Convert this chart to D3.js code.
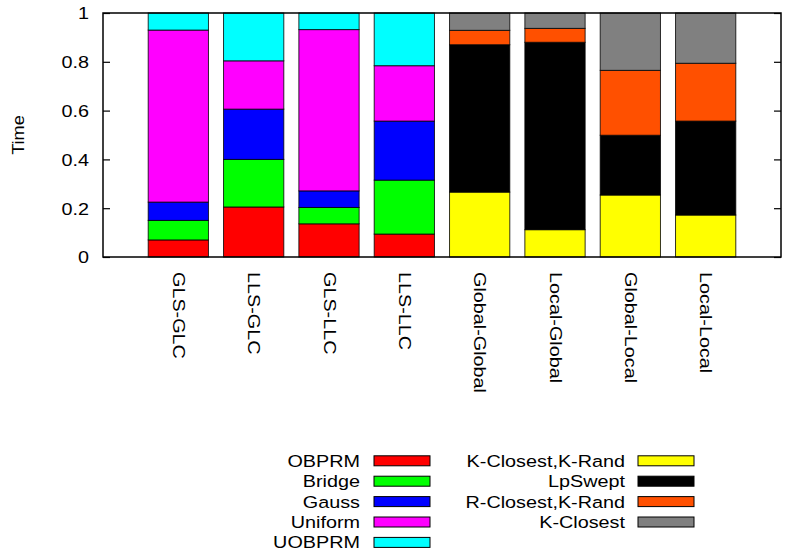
<!DOCTYPE html>
<html>
<head>
<meta charset="utf-8">
<script src="https://cdn.jsdelivr.net/npm/d3@7"></script>
<style>
  html, body { margin: 0; padding: 0; background: #fff; }
  svg { display: block; }
  text { font-family: "Liberation Sans", Arial, Helvetica, sans-serif; fill: #000; }
</style>
</head>
<body>
<svg id="chart" width="786" height="554"></svg>
<script>
// ---- data ----
const categories = ["GLS-GLC", "LLS-GLC", "GLS-LLC", "LLS-LLC", "Global-Global", "Local-Global", "Global-Local", "Local-Local"];
const seriesNames = ["OBPRM", "Bridge", "Gauss", "Uniform", "UOBPRM", "K-Closest,K-Rand", "LpSwept", "R-Closest,K-Rand", "K-Closest"];
const obprm        = [0.070, 0.205, 0.136, 0.094, 0, 0, 0, 0];
const bridge       = [0.080, 0.195, 0.067, 0.221, 0, 0, 0, 0];
const gauss        = [0.075, 0.206, 0.068, 0.242, 0, 0, 0, 0];
const uniform      = [0.705, 0.198, 0.661, 0.227, 0, 0, 0, 0];
const uobprm       = [0.070, 0.196, 0.068, 0.216, 0, 0, 0, 0];
const kClosestKRand = [0, 0, 0, 0, 0.266, 0.112, 0.254, 0.172];
const lpSwept      = [0, 0, 0, 0, 0.604, 0.768, 0.245, 0.385];
const rClosestKRand = [0, 0, 0, 0, 0.059, 0.057, 0.266, 0.237];
const kClosest     = [0, 0, 0, 0, 0.071, 0.063, 0.235, 0.206];
const seriesColors = ["#ff0000", "#00ff00", "#0000ff", "#ff00ff", "#00ffff", "#ffff00", "#000000", "#ff5000", "#808080"];
const yTickValues = [0, 0.2, 0.4, 0.6, 0.8, 1];
const yLabel = "Time";

const seriesValues = [obprm, bridge, gauss, uniform, uobprm, kClosestKRand, lpSwept, rClosestKRand, kClosest];

// ---- layout ----
const plot = { left: 103, right: 781, top: 13, bottom: 257 };
const FONT = 16.5, SX = 1.2;

const svg = d3.select("#chart");
const x = d3.scaleLinear().domain([-1, categories.length]).range([plot.left, plot.right]);
const y = d3.scaleLinear().domain([0, 1]).range([plot.bottom, plot.top]);
const barW = x(0.8) - x(0);

// stacked data
const rows = categories.map((c, i) => {
  const r = { cat: c, idx: i };
  seriesNames.forEach((s, k) => r[s] = seriesValues[k][i]);
  return r;
});
const stacked = d3.stack().keys(seriesNames)(rows);

// bars
const gBars = svg.append("g");
stacked.forEach((layer, k) => {
  gBars.selectAll(null)
    .data(layer.filter(d => d[1] - d[0] > 0))
    .enter().append("rect")
    .attr("x", d => x(d.data.idx) - barW / 2)
    .attr("width", barW)
    .attr("y", d => y(d[1]))
    .attr("height", d => y(d[0]) - y(d[1]))
    .attr("fill", seriesColors[k])
    .attr("stroke", "#000")
    .attr("stroke-opacity", 0.8)
    .attr("stroke-width", 1);
});

// left axis
const yAxis = d3.axisLeft(y).tickValues(yTickValues).tickFormat(d3.format("")).tickSize(-7).tickPadding(14);
const gy = svg.append("g").attr("transform", `translate(${plot.left},0)`).call(yAxis);
gy.select(".domain").remove();
gy.selectAll(".tick line").attr("stroke", "#000").attr("stroke-width", 1.2);
gy.selectAll(".tick text")
  .attr("x", null).attr("dy", "0.36em")
  .attr("transform", `translate(-14,0) scale(${SX},1)`)
  .style("font-size", FONT + "px")
  .style("font-family", '"Liberation Sans", Arial, sans-serif')
  .attr("fill", "#000");

// right axis (mirror ticks)
const yAxisR = d3.axisRight(y).tickValues(yTickValues).tickFormat("").tickSize(-7);
const gyr = svg.append("g").attr("transform", `translate(${plot.right},0)`).call(yAxisR);
gyr.select(".domain").remove();
gyr.selectAll(".tick line").attr("stroke", "#000").attr("stroke-width", 1.2);

// bottom axis labels
const xAxis = d3.axisBottom(x).tickValues(d3.range(categories.length)).tickFormat(i => categories[i]).tickSize(0);
const gx = svg.append("g").attr("transform", `translate(0,${plot.bottom})`).call(xAxis);
gx.select(".domain").remove();
gx.selectAll(".tick text")
  .attr("x", null).attr("y", null).attr("dy", null)
  .attr("text-anchor", "start")
  .attr("transform", `translate(-6,15) rotate(90) scale(${SX},1)`)
  .style("font-size", FONT + "px")
  .style("font-family", '"Liberation Sans", Arial, sans-serif')
  .attr("fill", "#000");

// border
svg.append("rect")
  .attr("x", plot.left).attr("y", plot.top)
  .attr("width", plot.right - plot.left).attr("height", plot.bottom - plot.top)
  .attr("fill", "none").attr("stroke", "#000").attr("stroke-width", 1.5);

// y label
svg.append("text")
  .attr("transform", `translate(24,${(plot.top + plot.bottom) / 2}) rotate(-90) scale(1.1,1)`)
  .attr("text-anchor", "middle")
  .style("font-size", FONT + "px")
  .text(yLabel);

// legend
const legendCols = [
  { textRight: 360, swX: 374, items: [0, 1, 2, 3, 4] },
  { textRight: 625, swX: 638, items: [5, 6, 7, 8] }
];
const legTop = 460.8, legStep = 20.4, swW = 56, swH = 10;
legendCols.forEach(col => {
  const g = svg.append("g");
  col.items.forEach((k, j) => {
    const cy = legTop + j * legStep;
    g.append("text")
      .attr("transform", `translate(${col.textRight},${cy}) scale(${SX},1)`)
      .attr("dy", "0.36em")
      .attr("text-anchor", "end")
      .style("font-size", FONT + "px")
      .text(seriesNames[k]);
    g.append("rect")
      .attr("x", col.swX).attr("y", cy - swH / 2)
      .attr("width", swW).attr("height", swH)
      .attr("fill", seriesColors[k])
      .attr("stroke", "#000").attr("stroke-width", 1);
  });
});
</script>
</body>
</html>
